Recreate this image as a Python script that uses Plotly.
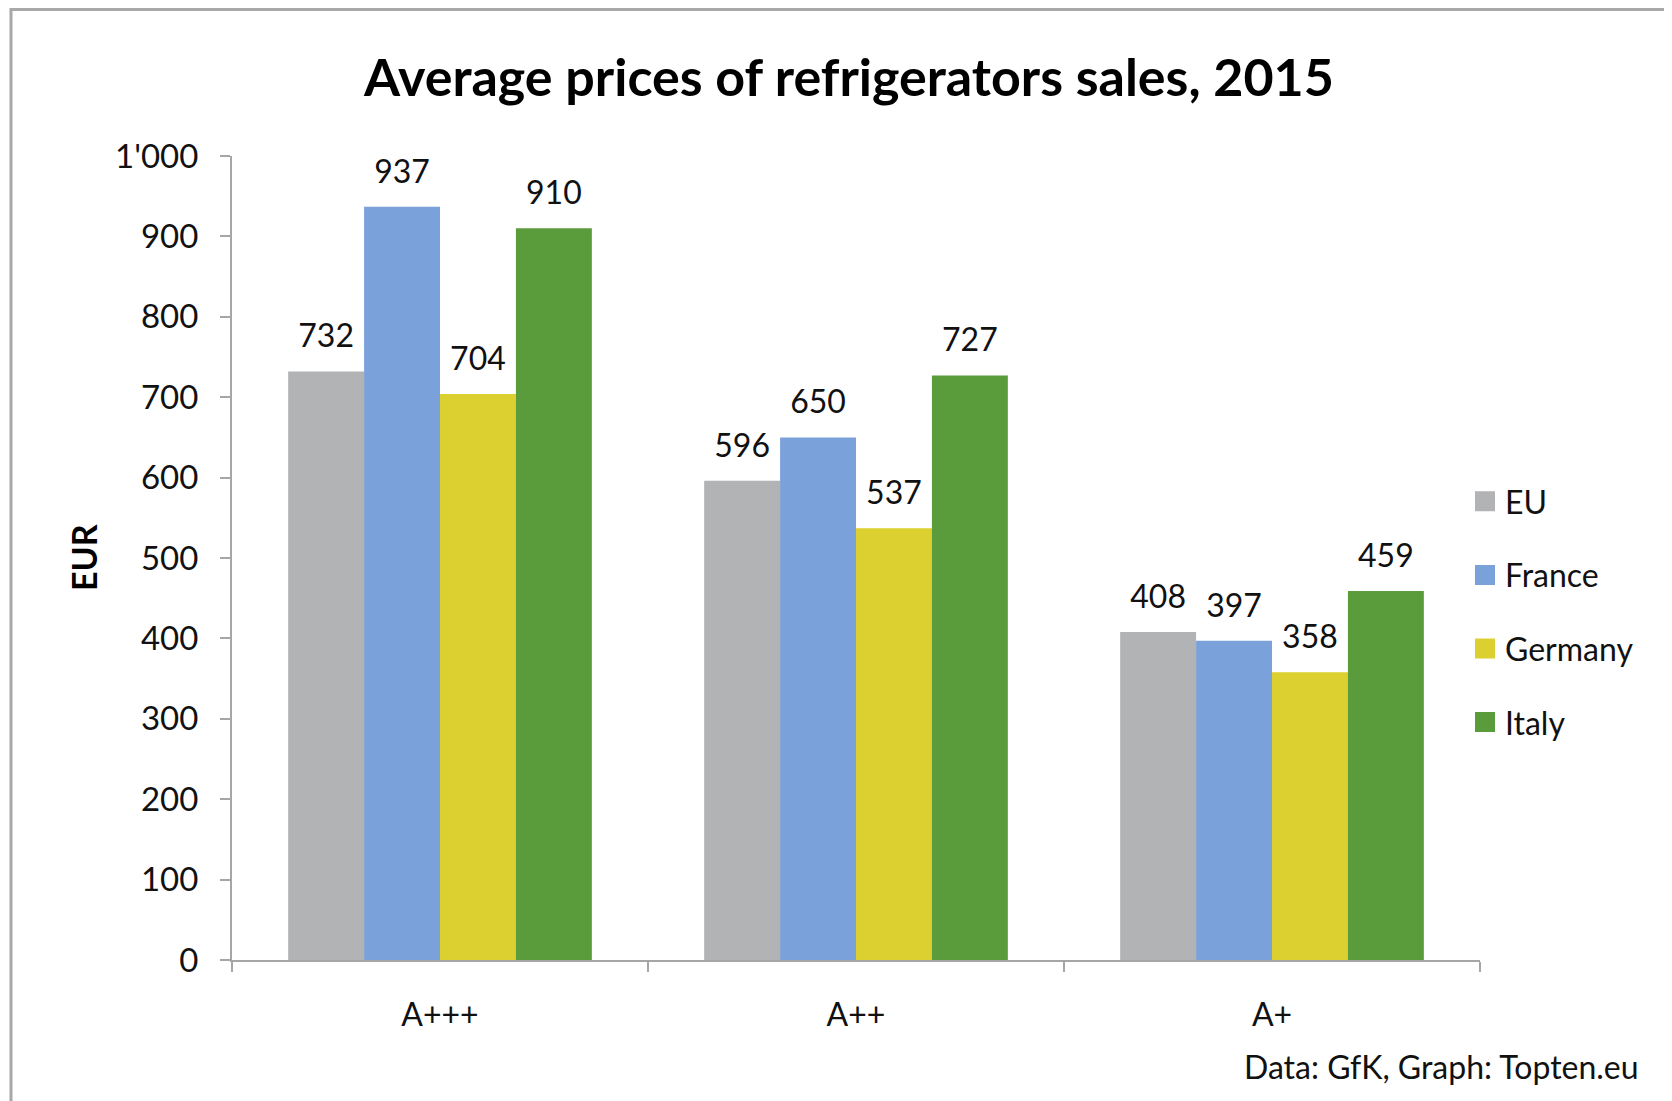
import plotly.graph_objects as go

categories = ["A+++", "A++", "A+"]
series = ["EU", "France", "Germany", "Italy"]
eu = [732, 596, 408]
france = [937, 650, 397]
germany = [704, 537, 358]
italy = [910, 727, 459]
values = [eu, france, germany, italy]
colors = ["#B2B3B5", "#7AA1D9", "#DCD030", "#5A9B3C"]
y_tickvals = [0, 100, 200, 300, 400, 500, 600, 700, 800, 900, 1000]
y_ticktext = ["0", "100", "200", "300", "400", "500", "600", "700", "800", "900", "1'000"]

FONT = "Lato"
OFF = 8  # browser body margin
W, H = 1672 - OFF, 1101 - OFF
# layout given in page pixels, converted to figure pixels
L, R, T, B = 232 - OFF, 1672 - 1480, 156 - OFF, 1101 - 960
PW = W - L - R
PH = H - T - B

def px(x):
    return (x - OFF - L) / PW

def py(y):
    return (H - B - (y - OFF)) / PH

fig = go.Figure()
for name, vals, col in zip(series, values, colors):
    fig.add_trace(go.Bar(x=categories, y=vals, name=name, marker_color=col,
                         marker_line_width=0, offsetgroup=name, showlegend=False,
                         hoverinfo="skip"))
for name, vals, col in zip(series, values, colors):
    fig.add_trace(go.Scatter(x=categories, y=vals, mode="text+markers", text=[str(v) for v in vals],
                             textposition="top center", offsetgroup=name,
                             marker=dict(size=24, opacity=0), textfont=dict(family=FONT, size=32, color="#111"),
                             showlegend=False, hoverinfo="skip", cliponaxis=False))
for name, col in zip(series, colors):
    fig.add_trace(go.Scatter(x=[None], y=[None], mode="markers", name=name, legendgroup=name,
                             marker=dict(symbol="square", size=16, color=col, line=dict(color=col, width=4))))

fig.update_layout(
    width=W, height=H,
    paper_bgcolor="white", plot_bgcolor="white",
    margin=dict(l=L, r=R, t=T, b=B, autoexpand=False),
    barmode="group", bargap=0.27, bargroupgap=0,
    scattermode="group", scattergap=0.27,
    title=dict(text="<b>Average prices of refrigerators sales, 2015</b>", x=(849 - OFF) / W, xanchor="center",
               y=1 - (78 - OFF) / H, yanchor="middle", font=dict(family=FONT, size=52, color="#000")),
    font=dict(family=FONT, size=32, color="#111"),
    legend=dict(xref="container", yref="container", x=(1465 - OFF) / W, y=1 - (474 - OFF) / H,
                xanchor="left", yanchor="top",
                font=dict(family=FONT, size=32, color="#111"), traceorder="grouped", tracegroupgap=29,
                itemsizing="trace", bgcolor="rgba(0,0,0,0)"),
    xaxis=dict(showline=True, linecolor="#A6A6A6", linewidth=2, ticks="outside", tickson="boundaries",
               ticklen=10, tickcolor="#A6A6A6", tickwidth=2, showgrid=False, automargin=False,
               tickfont=dict(family=FONT, size=32, color="#111"), ticklabelstandoff=26),
    yaxis=dict(range=[0, 1000], tickvals=y_tickvals, ticktext=y_ticktext, showline=True,
               linecolor="#A6A6A6", linewidth=2, ticks="outside", ticklen=10, tickcolor="#A6A6A6",
               tickwidth=2, showgrid=False, zeroline=False, automargin=False,
               tickfont=dict(family=FONT, size=33, color="#111"), ticklabelstandoff=15),
    shapes=[dict(type="rect", xref="paper", yref="paper", x0=px(11), x1=px(1700),
                 y0=py(1130), y1=py(OFF + 1.5), line=dict(color="#A8A8A8", width=3), layer="below")],
    annotations=[
        dict(text="Data: GfK, Graph: Topten.eu", xref="paper", yref="paper",
             x=px(1641), y=py(1066), xanchor="right", yanchor="middle", showarrow=False,
             font=dict(family=FONT, size=32, color="#111")),
        dict(text="<b>EUR</b>", xref="paper", yref="paper", x=px(83), y=0.5, textangle=-90,
             xanchor="center", yanchor="middle", showarrow=False,
             font=dict(family=FONT, size=34, color="#000")),
    ],
)

fig.write_html("out.html")
